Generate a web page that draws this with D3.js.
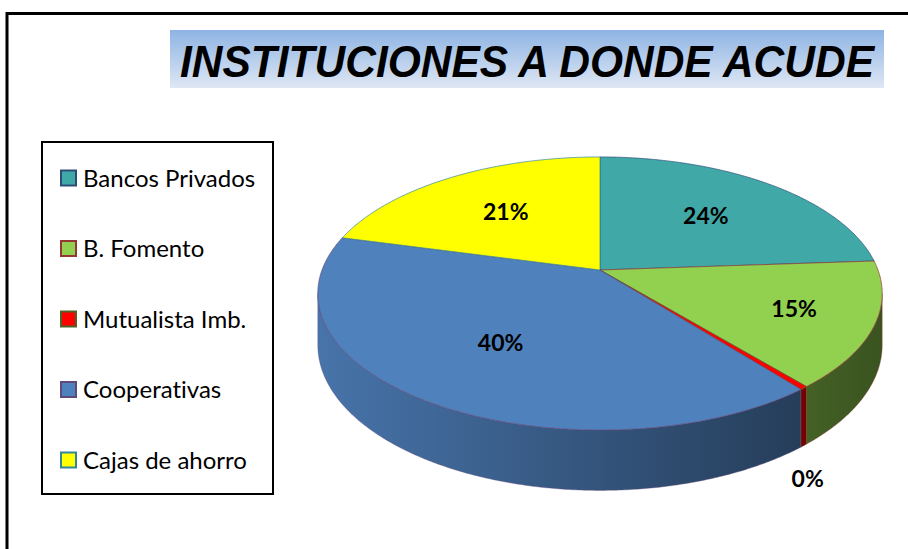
<!DOCTYPE html>
<html>
<head>
<meta charset="utf-8">
<script src="https://cdn.jsdelivr.net/npm/d3@7/dist/d3.min.js"></script>
<style>
  html, body { margin: 0; padding: 0; background: #ffffff; }
  svg { display: block; }
  text { font-variant-ligatures: none; }
</style>
</head>
<body>
<svg id="chart" width="908" height="549"></svg>
<script>
// ---- data ----
const title = "INSTITUCIONES A DONDE ACUDE";
const categories = ["Bancos Privados", "B. Fomento", "Mutualista Imb.", "Cooperativas", "Cajas de ahorro"];
const values = [24, 15, 0.4, 40, 21];
const topColors = ["#40a9a8", "#92d050", "#ff0000", "#4f81bd", "#ffff00"];
const edgeColors = ["#2c4d75", "#953735", "#4f6228", "#604a7b", "#31859c"];

// ---- layout ----
const svg = d3.select("#chart");
const defs = svg.append("defs");

// outer border
svg.append("rect").attr("x", 7).attr("y", 13.5).attr("width", 960).attr("height", 600)
  .attr("fill", "none").attr("stroke", "#000").attr("stroke-width", 3);

// title
const tg = defs.append("linearGradient").attr("id", "titleGrad")
  .attr("x1", 0).attr("y1", 0).attr("x2", 0).attr("y2", 1);
tg.append("stop").attr("offset", "0%").attr("stop-color", "#8eb4e3");
tg.append("stop").attr("offset", "100%").attr("stop-color", "#dfe7f4");
svg.append("rect").attr("x", 170).attr("y", 30).attr("width", 714).attr("height", 58)
  .attr("fill", "url(#titleGrad)");
svg.append("text").attr("x", 180).attr("y", 77)
  .attr("font-family", "Liberation Sans, Arial, sans-serif")
  .attr("font-weight", "bold").attr("font-style", "italic")
  .attr("font-size", 44).attr("fill", "#000")
  .attr("textLength", 694).attr("lengthAdjust", "spacingAndGlyphs")
  .text(title);

// legend
const legend = svg.append("g");
legend.append("rect").attr("x", 42).attr("y", 142).attr("width", 231).attr("height", 352)
  .attr("fill", "#fff").attr("stroke", "#000").attr("stroke-width", 2);
const ly = d3.scalePoint().domain(categories).range([178, 460]);
const li = legend.selectAll("g.item").data(categories).join("g").attr("class", "item")
  .attr("transform", d => `translate(0,${ly(d)})`);
li.append("rect").attr("x", 61).attr("y", -7.5).attr("width", 15).attr("height", 15)
  .attr("fill", (d, i) => topColors[i]).attr("stroke", (d, i) => edgeColors[i]).attr("stroke-width", 2);
li.append("text").attr("x", 83).attr("y", 8.5)
  .attr("font-family", "Lato, 'Open Sans', sans-serif").attr("font-size", 24).attr("fill", "#000")
  .text(d => d);

// ---- 3D pie with perspective ----
const cx = 600, cy = 270, A = 278, B = 132.5, K = 0.172, DEPTH = 50;
function proj(theta, r, h) {
  const u = r * Math.sin(theta), v = r * Math.cos(theta);
  const w = 1 + K * v;
  return [cx + A * u / w, cy - B * v / w + (h || 0) / w];
}
function arcPts(a0, a1, r, h) {
  const n = Math.max(2, Math.ceil(Math.abs(a1 - a0) / (Math.PI / 360)));
  const pts = [];
  for (let i = 0; i <= n; i++) pts.push(proj(a0 + (a1 - a0) * i / n, r, h));
  return pts;
}
const pie = d3.pie().sort(null).value(d => d).startAngle(0).endAngle(2 * Math.PI);
const arcs = pie(values);
const total = d3.sum(values);

const thR = Math.acos(-K), thL = 2 * Math.PI - thR;
const line = d3.line();

// side gradients
arcs.forEach((a, i) => {
  const c = d3.rgb(topColors[i]);
  const g = defs.append("linearGradient").attr("id", "side" + i)
    .attr("gradientUnits", "userSpaceOnUse")
    .attr("x1", cx - A - 4).attr("y1", 0).attr("x2", cx + A + 4).attr("y2", 0);
  const f = (t) => d3.rgb(c.r * t, c.g * t, c.b * t).toString();
  g.append("stop").attr("offset", "0%").attr("stop-color", f(0.9));
  g.append("stop").attr("offset", "100%").attr("stop-color", f(0.4));
});

const pieG = svg.append("g");
// sides
arcs.forEach((a, i) => {
  const s = Math.max(a.startAngle, thR), e = Math.min(a.endAngle, thL);
  if (e <= s) return;
  const topPts = arcPts(s, e, 1, 0);
  const botPts = arcPts(e, s, 1, DEPTH);
  pieG.append("path").attr("d", line(topPts.concat(botPts)) + "Z")
    .attr("fill", `url(#side${i})`).attr("stroke", edgeColors[i]).attr("stroke-width", 0.6)
    .attr("stroke-opacity", 0.6);
});
// tops
arcs.forEach((a, i) => {
  const pts = [proj(0, 0, 0)].concat(arcPts(a.startAngle, a.endAngle, 1, 0));
  pieG.append("path").attr("d", line(pts) + "Z")
    .attr("fill", topColors[i]).attr("stroke", edgeColors[i]).attr("stroke-width", 0.7)
    .attr("stroke-linejoin", "round");
});

// labels
const labelsG = svg.append("g")
  .attr("font-family", "Lato, 'Open Sans', sans-serif").attr("font-weight", "bold")
  .attr("font-size", 23).attr("fill", "#000").attr("text-anchor", "middle");
arcs.forEach((a, i) => {
  const share = a.value / total;
  const mid = (a.startAngle + a.endAngle) / 2;
  let p;
  if (share < 0.02) {
    const b = proj(mid, 1, DEPTH);
    p = [b[0] + 4, b[1] + 33];
  } else {
    // narrow slices get their label pushed further out
    const r = 0.6 + Math.max(0, 0.2 - share) * 2.4;
    p = proj(mid, r, 0);
  }
  labelsG.append("text").attr("x", p[0]).attr("y", p[1]).attr("dy", "0.35em")
    .text(Math.round(share * 100) + "%");
});
</script>
</body>
</html>
